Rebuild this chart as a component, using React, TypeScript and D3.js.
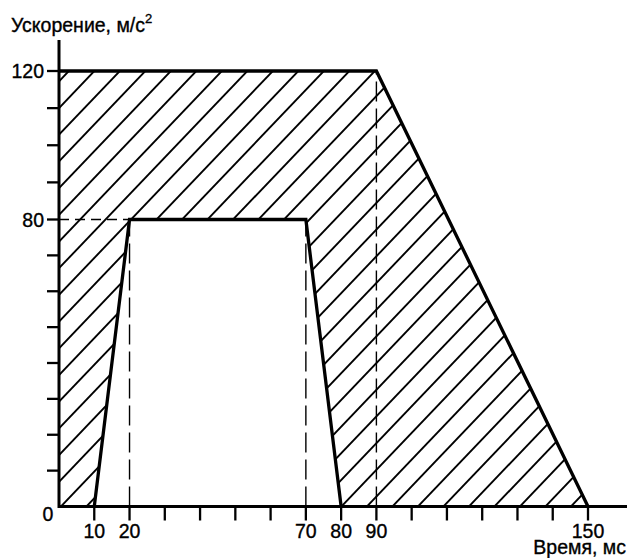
import React, { useEffect, useRef } from 'react';
import * as d3 from 'd3';

// time, ms / acceleration, m/s^2
const outerTime = [0, 0, 90, 150];
const outerAccel = [0, 120, 120, 0];
const innerTime = [10, 20, 70, 80];
const innerAccel = [0, 80, 80, 0];

const xTicks = d3.range(10, 160, 10);
const xLabels = [10, 20, 70, 80, 90, 150];
const yTicks = d3.range(10, 130, 10);
const yLabels = [80, 120];

const W = 628;
const H = 558;
const FONT = '"Liberation Sans", Arial, sans-serif';

const App = () => {
  const ref = useRef<SVGSVGElement>(null);

  useEffect(() => {
    const svg = d3.select(ref.current);
    svg.selectAll('*').remove();

    const x = d3.scaleLinear().domain([0, 150]).range([59, 588]);
    // drawing is slightly uneven above 80
    const y = d3.scaleLinear().domain([0, 80, 120]).range([506.5, 219.5, 71]);

    const x0 = x(0);
    const y0 = y(0);

    // hatched zone = outer shape minus inner trapezoid
    const zone: [number, number][] = [
      ...outerTime.map((t, i) => [t, outerAccel[i]] as [number, number]),
      ...innerTime.map((t, i) => [t, innerAccel[i]] as [number, number]).reverse(),
    ];
    const toPath = d3.line<[number, number]>().x(d => x(d[0])).y(d => y(d[1]));

    svg.append('defs').append('clipPath').attr('id', 'zone')
      .append('path').attr('d', toPath(zone) + 'Z');

    const step = 25.5;
    const slope = 1.047;
    const rise = 480;
    svg.append('g').attr('clip-path', 'url(#zone)')
      .selectAll('line')
      .data(d3.range(-22, 24))
      .enter()
      .append('line')
      .attr('x1', k => x0 + step * k)
      .attr('y1', y0 + 2)
      .attr('x2', k => x0 + step * k + rise / slope)
      .attr('y2', y0 + 2 - rise)
      .attr('stroke', '#000')
      .attr('stroke-width', 1.9);

    // dashed guides
    const dashed = svg.append('g').attr('stroke', '#000').attr('stroke-width', 1.4).attr('fill', 'none');
    dashed.append('line')
      .attr('x1', x0).attr('x2', x(innerTime[1]))
      .attr('y1', y(innerAccel[1])).attr('y2', y(innerAccel[1]))
      .attr('stroke-dasharray', '10,6');
    [innerTime[1], innerTime[2]].forEach(t => {
      dashed.append('line')
        .attr('x1', x(t)).attr('x2', x(t))
        .attr('y1', y0).attr('y2', y(80))
        .attr('stroke-dasharray', '20,7');
    });
    dashed.append('line')
      .attr('x1', x(outerTime[2])).attr('x2', x(outerTime[2]))
      .attr('y1', y0).attr('y2', y(outerAccel[2]))
      .attr('stroke-dasharray', '20,7');

    // thick outlines
    svg.append('path')
      .attr('d', toPath(outerTime.map((t, i) => [t, outerAccel[i]] as [number, number]).slice(1)))
      .attr('fill', 'none').attr('stroke', '#000').attr('stroke-width', 3.3)
      .attr('stroke-linejoin', 'miter');
    svg.append('path')
      .attr('d', toPath(innerTime.map((t, i) => [t, innerAccel[i]] as [number, number])))
      .attr('fill', 'none').attr('stroke', '#000').attr('stroke-width', 3.3);

    // axes
    svg.append('line')
      .attr('x1', x0).attr('x2', 627).attr('y1', y0).attr('y2', y0)
      .attr('stroke', '#000').attr('stroke-width', 3);
    svg.append('line')
      .attr('x1', x0).attr('x2', x0).attr('y1', y0 + 1.5).attr('y2', 40)
      .attr('stroke', '#000').attr('stroke-width', 3);

    svg.append('g').selectAll('line')
      .data(xTicks).enter().append('line')
      .attr('x1', d => x(d)).attr('x2', d => x(d))
      .attr('y1', y0).attr('y2', y0 + 14)
      .attr('stroke', '#000').attr('stroke-width', 2.3);

    svg.append('g').selectAll('line')
      .data(yTicks).enter().append('line')
      .attr('x1', x0 - 12).attr('x2', x0)
      .attr('y1', d => y(d)).attr('y2', d => y(d))
      .attr('stroke', '#000').attr('stroke-width', 2.3);

    const text = svg.append('g')
      .style('font-family', FONT).style('font-size', '19.5px')
      .attr('fill', '#000').attr('stroke', '#000').attr('stroke-width', 0.35);

    text.selectAll('.xl')
      .data(xLabels).enter().append('text')
      .attr('x', d => x(d)).attr('y', 538)
      .attr('text-anchor', 'middle')
      .text(d => d);

    text.selectAll('.yl')
      .data(yLabels).enter().append('text')
      .attr('x', 44).attr('y', d => y(d) + 7)
      .attr('text-anchor', 'end')
      .text(d => d);

    text.append('text').attr('x', 48).attr('y', 521).attr('text-anchor', 'middle').text('0');

    const title = text.append('text').attr('x', 11).attr('y', 31.5);
    title.append('tspan').text('Ускорение, м/с');
    title.append('tspan').attr('dy', -9).style('font-size', '13px').text('2');

    text.append('text').attr('x', 626).attr('y', 554).attr('text-anchor', 'end').text('Время, мс');
  }, []);

  return (
    <svg
      ref={ref}
      width={W}
      height={H}
      style={{ position: 'absolute', left: 0, top: 0, background: '#fff' }}
    />
  );
};

export default App;
